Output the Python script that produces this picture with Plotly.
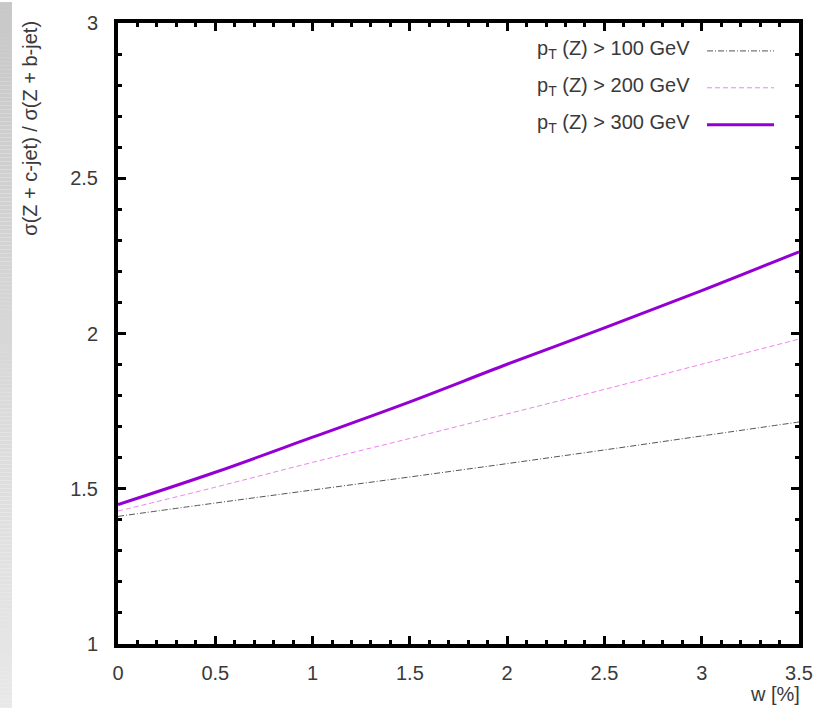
import plotly.graph_objects as go

# ---- data ----
w_values = [0, 0.5, 1, 1.5, 2, 2.5, 3, 3.5]
ratio_pt100 = [1.411, 1.454, 1.496, 1.538, 1.581, 1.625, 1.670, 1.715]
ratio_pt200 = [1.428, 1.505, 1.585, 1.662, 1.741, 1.820, 1.901, 1.982]
ratio_pt300 = [1.449, 1.553, 1.666, 1.780, 1.901, 2.018, 2.138, 2.263]
series_names = ["p<sub>T</sub> (Z) > 100 GeV", "p<sub>T</sub> (Z) > 200 GeV", "p<sub>T</sub> (Z) > 300 GeV"]
x_ticks = [0, 0.5, 1, 1.5, 2, 2.5, 3, 3.5]
x_tick_labels = ["0", "0.5", "1", "1.5", "2", "2.5", "3", "3.5"]
y_ticks = [1, 1.5, 2, 2.5, 3]
y_tick_labels = ["1", "1.5", "2", "2.5", "3"]

W, H = 830, 708
L, R, T, B = 118, 31, 21, 64
PW, PH = W - L - R, H - T - B

def px(x):
    return (x - L) / PW

def py(y):
    return 1 - (y - T) / PH

FONT = "Liberation Sans, Arial"
TXT = "#3a3a3a"

styles = [
    dict(color="#555555", width=1, dash="6px,2px,1px,2px"),
    dict(color="#ee82ee", width=1, dash="5px,3px"),
    dict(color="#9400d3", width=3, dash="solid"),
]
series = [ratio_pt100, ratio_pt200, ratio_pt300]

fig = go.Figure()
for name, ys, st in zip(series_names, series, styles):
    fig.add_trace(go.Scatter(x=w_values, y=ys, mode="lines", name=name,
                             line=dict(color=st["color"], width=st["width"], dash=st["dash"]),
                             line_shape="spline", showlegend=False))

shapes = []
# smooth gray gradient strip at the left edge
n = 177
for i in range(n):
    y0 = H * i / n
    y1 = H * (i + 1) / n
    g = int(round(200 + 32 * (i / (n - 1))))
    shapes.append(dict(type="rect", xref="paper", yref="paper",
                       x0=px(0), x1=px(12), y0=py(y1), y1=py(y0),
                       fillcolor=f"rgb({g},{g},{g})", line=dict(width=0), layer="below"))

annotations = []
legend_rows = [48, 85, 122]
for name, st, yy in zip(series_names, styles, legend_rows):
    annotations.append(dict(text=name, xref="paper", yref="paper", x=px(692), y=py(yy),
                            xanchor="right", yanchor="middle", showarrow=False,
                            font=dict(family=FONT, size=20, color=TXT)))
    shapes.append(dict(type="line", xref="paper", yref="paper", x0=px(707), x1=px(774),
                       y0=py(yy + 1), y1=py(yy + 1),
                       line=dict(color=st["color"], width=st["width"], dash=st["dash"])))

annotations.append(dict(text="σ(Z + c-jet) / σ(Z + b-jet)", xref="paper", yref="paper",
                        x=px(30), y=py(127), textangle=-90, xanchor="center", yanchor="middle",
                        showarrow=False,
                        font=dict(family=FONT, size=20, color=TXT)))
annotations.append(dict(text="w [%]", xref="paper", yref="paper",
                        x=px(802), y=py(694), xanchor="right", yanchor="middle",
                        showarrow=False,
                        font=dict(family=FONT, size=20, color=TXT)))

axis_common = dict(showline=True, linecolor="black", linewidth=4, mirror="ticks",
                   ticks="inside", ticklen=8, tickwidth=3, tickcolor="black",
                   showgrid=False, zeroline=False,
                   tickfont=dict(family=FONT, size=20, color=TXT),
                   minor=dict(ticks="inside", ticklen=4, tickwidth=3, tickcolor="black",
                              dtick=0.1, showgrid=False))

fig.update_xaxes(range=[0, 3.5], tickvals=x_ticks, ticktext=x_tick_labels,
                 ticklabelstandoff=8, **axis_common)
fig.update_yaxes(range=[1, 3], tickvals=y_ticks, ticktext=y_tick_labels,
                 ticklabelstandoff=12, **axis_common)

fig.update_layout(width=W, height=H, margin=dict(l=L, r=R, t=T, b=B, pad=0),
                  paper_bgcolor="white", plot_bgcolor="white",
                  shapes=shapes, annotations=annotations, showlegend=False)

fig.write_html("out.html")
